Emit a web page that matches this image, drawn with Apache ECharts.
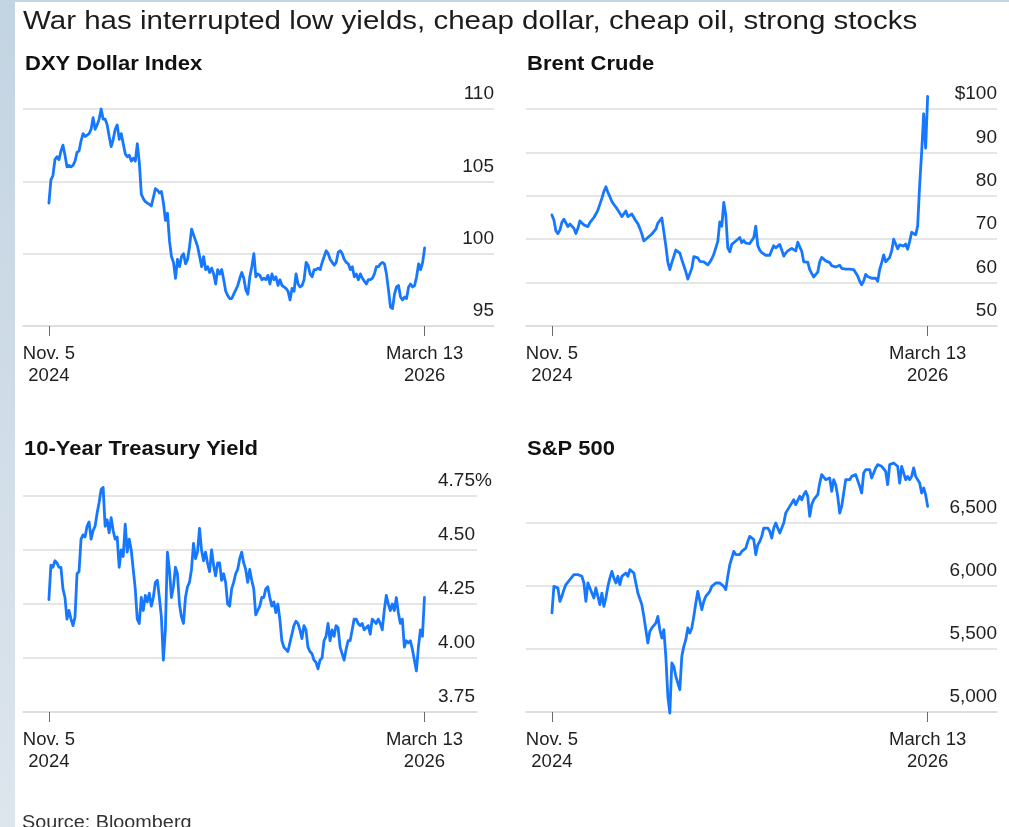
<!DOCTYPE html>
<html>
<head>
<meta charset="utf-8">
<style>
  html, body { margin: 0; padding: 0; background: #ffffff; }
  #chart { width: 1009px; height: 827px; }
</style>
<script src="https://cdn.jsdelivr.net/npm/echarts@6/dist/echarts.min.js"></script>
</head>
<body>
<div id="chart"></div>
<script>
// Daily closes, Nov. 5 2024 through March 13 2026, evenly spread across the span
const SPAN_DAYS = 493;               // Nov. 5 2024 -> March 13 2026
const tickDays = [0, SPAN_DAYS];
const tickLabels = ['Nov. 5\n2024', 'March 13\n2026'];

const headline = 'War has interrupted low yields, cheap dollar, cheap oil, strong stocks';
const panelTitles = ['DXY Dollar Index', 'Brent Crude', '10-Year Treasury Yield', 'S&P 500'];
const sourceNote = 'Source: Bloomberg';

const dxyTicks = [95, 100, 105, 110];
const brentTicks = [50, 60, 70, 80, 90, 100];
const yieldTicks = [3.75, 4.00, 4.25, 4.50, 4.75];
const spxTicks = [5000, 5500, 6000, 6500];

const dxyValues = [103.5,105.1,105.4,106.5,106.7,106.5,107.1,107.5,106.8,106.0,106.1,106.0,106.1,106.4,107.0,107.1,107.8,108.3,108.1,108.2,
  108.3,108.6,109.4,108.6,108.9,109.3,110.0,109.3,109.3,108.9,108.1,107.4,107.9,108.6,108.9,107.9,108.3,107.6,106.9,106.7,
  106.8,106.4,106.6,106.4,107.6,106.3,104.1,103.8,103.6,103.5,103.4,103.3,103.9,104.5,104.4,104.2,104.3,103.5,102.3,102.8,
  100.9,99.8,99.4,98.3,99.6,99.1,99.8,100.0,99.3,99.6,100.5,101.7,101.3,100.9,100.5,99.8,99.1,99.8,98.9,99.1,
  98.7,99.0,98.6,97.9,98.9,98.6,98.9,98.2,97.4,97.1,96.9,96.9,97.2,97.5,97.8,98.3,98.7,98.3,97.5,97.2,
  98.4,99.1,100.0,98.4,98.6,98.5,98.2,98.3,98.2,98.5,97.9,98.6,98.2,98.4,97.8,98.2,97.8,97.7,97.6,97.4,
  96.8,97.6,97.4,98.6,97.9,97.7,97.8,98.2,99.4,99.2,98.6,98.4,98.9,98.9,99.0,98.9,99.4,99.8,100.2,100.0,
  99.6,99.4,99.2,99.4,100.1,100.2,100.0,99.6,99.4,99.3,98.9,99.1,98.4,98.6,98.2,98.6,98.3,98.1,97.9,98.2,
  98.2,98.3,98.6,99.1,99.1,99.3,99.4,99.3,98.6,97.5,96.3,96.2,97.2,97.7,97.8,97.0,96.8,97.0,96.9,97.7,
  97.9,97.7,97.8,98.4,99.3,98.9,99.4,100.4];

const brentValues = [75.6,74.4,71.9,71.3,72.1,73.9,74.6,75.0,72.9,73.5,73.5,72.5,71.3,72.5,74.2,74.0,73.3,72.9,72.9,73.8,
  74.2,75.0,75.8,76.7,76.7,79.4,81.0,82.1,80.8,79.8,78.7,78.0,77.4,76.7,76.3,75.2,75.5,76.5,75.2,74.8,
  75.8,75.4,74.2,73.6,72.5,71.2,69.6,69.6,70.4,70.8,71.2,71.6,72.3,73.7,74.3,74.9,75.0,68.5,64.7,63.0,
  64.6,64.8,67.5,67.5,66.8,65.3,65.6,62.5,60.8,60.8,63.3,66.0,66.3,65.7,64.9,65.2,64.8,64.6,64.1,64.7,
  65.5,66.5,66.7,69.5,74.0,73.0,78.5,75.5,68.0,67.1,68.8,68.6,69.6,69.4,70.4,69.2,69.7,69.1,69.4,69.0,
  69.4,70.4,73.0,68.5,67.5,66.9,66.5,66.3,66.1,66.3,67.5,68.5,68.0,68.2,68.8,67.5,66.1,66.8,67.3,67.7,
  67.9,67.7,67.3,69.3,69.5,67.2,64.8,65.0,64.7,63.0,62.1,61.3,61.1,62.4,64.8,65.8,65.4,65.0,65.0,64.6,
  63.9,64.0,63.6,63.8,64.0,63.3,63.1,63.1,63.1,63.1,62.9,63.0,62.8,61.5,60.3,59.5,60.4,61.9,61.4,61.6,
  61.0,61.2,61.0,60.3,63.0,64.6,66.4,64.8,65.0,65.8,67.3,70.0,70.0,67.8,68.7,69.0,68.4,68.9,67.7,69.5,
  71.6,71.3,71.0,73.0,82.5,90.0,98.9,91.0,102.9];

const yieldValues = [4.27,4.43,4.42,4.45,4.44,4.42,4.42,4.32,4.28,4.18,4.22,4.18,4.15,4.19,4.39,4.40,4.55,4.57,4.56,4.61,
  4.63,4.55,4.59,4.61,4.67,4.72,4.78,4.79,4.61,4.64,4.58,4.65,4.59,4.55,4.56,4.42,4.50,4.47,4.62,4.49,
  4.55,4.50,4.41,4.32,4.18,4.16,4.28,4.22,4.29,4.26,4.30,4.24,4.28,4.35,4.36,4.28,4.19,3.99,4.13,4.49,
  4.41,4.28,4.33,4.42,4.39,4.25,4.19,4.16,4.28,4.33,4.35,4.41,4.53,4.46,4.49,4.60,4.50,4.45,4.49,4.44,
  4.40,4.50,4.43,4.38,4.44,4.44,4.36,4.39,4.35,4.25,4.24,4.32,4.35,4.39,4.41,4.46,4.49,4.44,4.41,4.35,
  4.41,4.36,4.32,4.20,4.22,4.24,4.28,4.28,4.32,4.33,4.28,4.24,4.26,4.21,4.25,4.18,4.08,4.05,4.04,4.03,
  4.07,4.11,4.15,4.17,4.16,4.13,4.09,4.15,4.13,4.05,4.03,4.02,3.99,3.98,3.95,3.99,4.00,4.08,4.10,4.16,
  4.08,4.13,4.10,4.15,4.14,4.05,4.02,3.99,4.04,4.08,4.08,4.13,4.18,4.18,4.16,4.15,4.16,4.13,4.14,4.15,
  4.11,4.18,4.17,4.16,4.18,4.16,4.13,4.22,4.29,4.25,4.22,4.25,4.22,4.28,4.21,4.16,4.18,4.05,4.08,4.07,
  4.08,4.04,3.99,3.94,4.05,4.13,4.10,4.28];

const spxValues = [5786,5997,6011,5984,5878,5918,5971,6011,6024,6050,6063,6090,6077,6090,6077,6077,6024,5878,6024,6037,
  5944,5905,5984,5918,5852,5944,5839,5905,5997,6063,6116,6063,6024,6077,6011,6077,6063,6103,6077,6130,
  6143,6103,6024,5944,5944,5852,5759,5653,5548,5640,5667,5653,5706,5759,5653,5587,5653,5442,5124,4992,
  5389,5362,5283,5230,5177,5442,5521,5574,5667,5627,5667,5759,5865,5958,5944,5812,5878,5918,5931,5958,
  5997,5984,6024,6037,6024,6011,5997,5971,6077,6169,6222,6275,6249,6262,6249,6275,6262,6301,6354,6394,
  6394,6368,6249,6328,6354,6394,6460,6447,6460,6434,6381,6460,6500,6460,6421,6460,6500,6579,6606,6632,
  6646,6685,6646,6646,6712,6685,6725,6751,6712,6553,6646,6685,6698,6725,6817,6884,6884,6844,6831,6857,
  6751,6844,6804,6712,6579,6632,6738,6844,6857,6844,6870,6857,6884,6870,6791,6738,6897,6923,6937,6923,
  6857,6897,6937,6963,6963,6950,6963,6910,6804,6963,6963,6976,6963,6950,6817,6950,6963,6844,6870,6844,
  6870,6937,6870,6870,6817,6738,6778,6725,6632];

// Pair each value with its day offset inside the span
function spread(values) {
  const step = SPAN_DAYS / (values.length - 1);
  return values.map((v, i) => [i * step, v]);
}

const FONT = '"Liberation Sans", Arial, Helvetica, sans-serif';
const LINE_BLUE = '#1677ff';
const GRID_GREY = '#dcdcdc';
const TEXT = '#1f1f1f';

const grids = [
  { left: 23,  right: 515, top: 109, bottom: 501 },
  { left: 526, right: 12,  top: 109, bottom: 501 },
  { left: 23,  right: 532, top: 496, bottom: 115 },
  { left: 526, right: 12,  top: 523, bottom: 115 }
];

function xAxisFor(gi, max) {
  return {
    type: 'value', gridIndex: gi, min: -34, max: max,
    splitLine: { show: false },
    axisLine: { show: true, lineStyle: { color: GRID_GREY, width: 1.6 } },
    axisTick: { show: true, customValues: tickDays, length: 10, lineStyle: { color: '#6a6a6a', width: 1 } },
    axisLabel: {
      show: true, customValues: tickDays, margin: 17,
      fontFamily: FONT, fontSize: 18.5, lineHeight: 22, color: TEXT,
      formatter: v => tickLabels[tickDays.indexOf(v)] || ''
    }
  };
}

function labelStyle(fmt, extra) {
  return Object.assign({
    inside: true, margin: 0, verticalAlign: 'bottom', padding: [0, 0, 5, 0],
    fontFamily: FONT, fontSize: 19, lineHeight: 20, color: TEXT,
    formatter: fmt
  }, extra || {});
}

function yAxisFor(gi, ticks, label) {
  const step = ticks[1] - ticks[0];
  return {
    type: 'value', gridIndex: gi, position: 'right',
    min: ticks[0], max: ticks[ticks.length - 1], interval: step,
    axisLine: { show: false }, axisTick: { show: false },
    splitLine: { show: true, lineStyle: { color: GRID_GREY, width: 1.6 } },
    axisLabel: label
  };
}

// Headline, panel titles and source line (slightly widened type)
function textEl(str, x, y, size, weight, color, sx) {
  return {
    type: 'text', x: x, y: y, scaleX: sx, silent: true,
    style: { text: str, fontFamily: FONT, fontSize: size, fontWeight: weight,
             fill: color, align: 'left', verticalAlign: 'top' }
  };
}

const seriesData = [dxyValues, brentValues, yieldValues, spxValues];

const option = {
  animation: false,
  backgroundColor: '#ffffff',
  graphic: [
    {
      type: 'rect', left: 0, top: 0, silent: true,
      shape: { width: 15, height: 827 },
      style: { fill: new echarts.graphic.LinearGradient(0, 0, 0, 1, [
        { offset: 0, color: '#c3d4e2' }, { offset: 1, color: '#dde5ed' }
      ]) }
    },
    {
      type: 'rect', left: 0, top: 0, silent: true,
      shape: { width: 1009, height: 2 },
      style: { fill: '#c3d4e2' }
    },
    textEl(headline, 23, 10, 25, 'normal', '#1c1c1c', 1.18),
    textEl(panelTitles[0], 25, 54, 20, 'bold', '#111111', 1.1),
    textEl(panelTitles[1], 527, 54, 20, 'bold', '#111111', 1.1),
    textEl(panelTitles[2], 24, 439, 20, 'bold', '#111111', 1.1),
    textEl(panelTitles[3], 527, 439, 20, 'bold', '#111111', 1.1),
    textEl(sourceNote, 22, 814, 18, 'normal', '#333333', 1.1)
  ],
  grid: grids,
  xAxis: [xAxisFor(0, 584), xAxisFor(1, 584), xAxisFor(2, 562), xAxisFor(3, 584)],
  yAxis: [
    yAxisFor(0, dxyTicks, labelStyle(v => String(v))),
    yAxisFor(1, brentTicks, labelStyle(v => v === 100 ? '$100' : String(v))),
    yAxisFor(2, yieldTicks, labelStyle(v => v === 4.75 ? '4.75%' : v.toFixed(2),
      { margin: 39, align: 'left' })),
    yAxisFor(3, spxTicks, labelStyle(v => v.toLocaleString('en-US')))
  ],
  series: seriesData.map((vals, i) => ({
    type: 'line', xAxisIndex: i, yAxisIndex: i,
    data: spread(vals), showSymbol: false, symbol: 'none', clip: false,
    lineStyle: { color: LINE_BLUE, width: 2.8, join: 'round', cap: 'round' }
  }))
};

const chart = echarts.init(document.getElementById('chart'), null, { renderer: 'canvas' });
chart.setOption(option);
</script>
</body>
</html>
